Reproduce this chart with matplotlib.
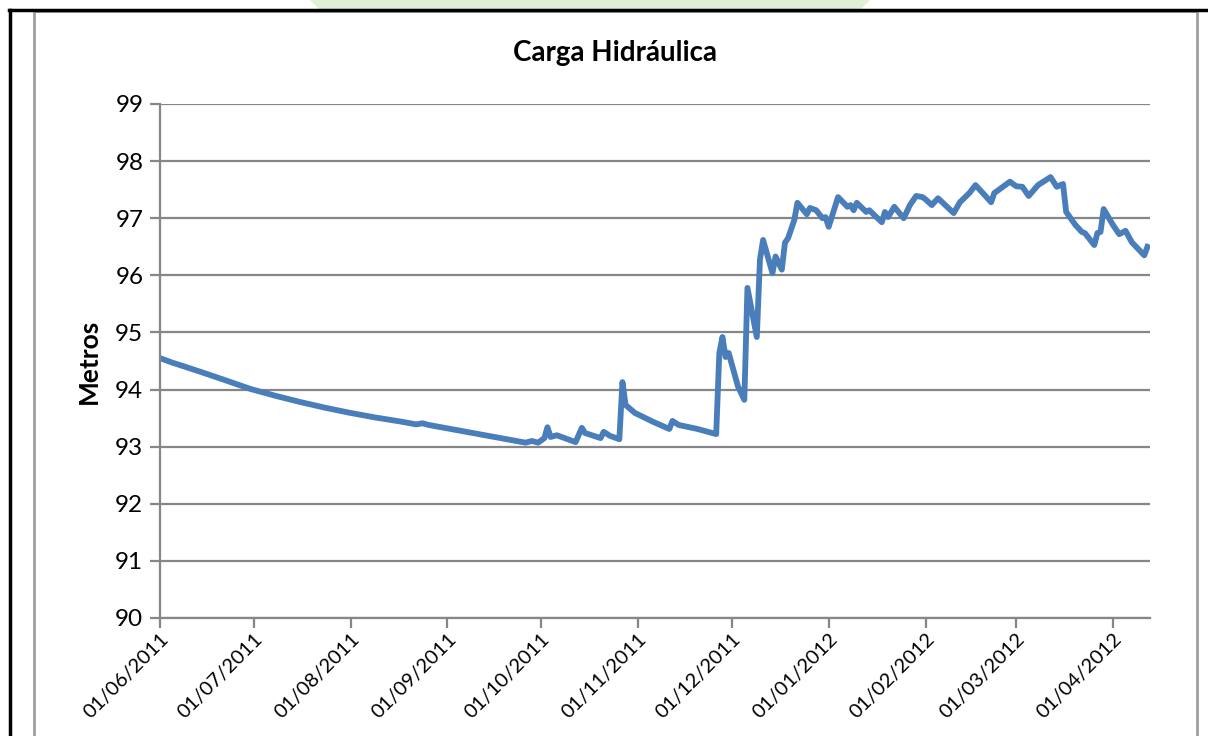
import matplotlib
matplotlib.use("Agg")
import matplotlib.pyplot as plt
import matplotlib.dates as mdates
from matplotlib.lines import Line2D
from matplotlib.patches import Rectangle, Polygon
import pandas as pd

# Datas e valores
datas = [
    "2011-06-01", "2011-06-05", "2011-06-09", "2011-06-14", "2011-06-21", "2011-06-30",
    "2011-07-08", "2011-07-16", "2011-07-24", "2011-08-01", "2011-08-09",
    "2011-08-17", "2011-08-22", "2011-08-24", "2011-08-26", "2011-09-02", "2011-09-12",
    "2011-09-19", "2011-09-26", "2011-09-28", "2011-09-30", "2011-10-02", "2011-10-03", "2011-10-04",
    "2011-10-06", "2011-10-12", "2011-10-14", "2011-10-15", "2011-10-20", "2011-10-21",
    "2011-10-23", "2011-10-26", "2011-10-27", "2011-10-28", "2011-10-31", "2011-11-06",
    "2011-11-11", "2011-11-12", "2011-11-14", "2011-11-20", "2011-11-26", "2011-11-27",
    "2011-11-28", "2011-11-29", "2011-11-30", "2011-12-03", "2011-12-05", "2011-12-06",
    "2011-12-09", "2011-12-10", "2011-12-11", "2011-12-14", "2011-12-15", "2011-12-17",
    "2011-12-18", "2011-12-19", "2011-12-21", "2011-12-22", "2011-12-25", "2011-12-26",
    "2011-12-28", "2011-12-30", "2011-12-31", "2012-01-01", "2012-01-04", "2012-01-07",
    "2012-01-08", "2012-01-09", "2012-01-10", "2012-01-13", "2012-01-14", "2012-01-18",
    "2012-01-19", "2012-01-20", "2012-01-22", "2012-01-25", "2012-01-27", "2012-01-29",
    "2012-01-31", "2012-02-01", "2012-02-03", "2012-02-05", "2012-02-10", "2012-02-12",
    "2012-02-15", "2012-02-17", "2012-02-22", "2012-02-23", "2012-02-28", "2012-03-01",
    "2012-03-03", "2012-03-05", "2012-03-08", "2012-03-12", "2012-03-14", "2012-03-16",
    "2012-03-17", "2012-03-20", "2012-03-22", "2012-03-23", "2012-03-26", "2012-03-27",
    "2012-03-28", "2012-03-29", "2012-04-01", "2012-04-03", "2012-04-05", "2012-04-07",
    "2012-04-11", "2012-04-12",
]
carga = [
    94.55, 94.47, 94.40, 94.31, 94.18, 94.01,
    93.89, 93.78, 93.68, 93.59, 93.51,
    93.44, 93.39, 93.41, 93.38, 93.31, 93.21,
    93.14, 93.07, 93.10, 93.07, 93.15, 93.34, 93.17,
    93.20, 93.08, 93.33, 93.24, 93.15, 93.26,
    93.19, 93.13, 94.13, 93.73, 93.59, 93.43,
    93.31, 93.45, 93.38, 93.31, 93.22, 94.64,
    94.92, 94.57, 94.64, 94.05, 93.82, 95.78,
    94.92, 96.27, 96.62, 96.04, 96.33, 96.10,
    96.57, 96.65, 96.97, 97.27, 97.07, 97.18,
    97.14, 97.00, 97.02, 96.85, 97.37, 97.20,
    97.23, 97.14, 97.27, 97.11, 97.14, 96.93,
    97.11, 97.02, 97.20, 97.00, 97.23, 97.39,
    97.37, 97.33, 97.23, 97.35, 97.09, 97.28,
    97.44, 97.58, 97.28, 97.44, 97.64, 97.56,
    97.55, 97.39, 97.58, 97.72, 97.55, 97.60,
    97.11, 96.88, 96.76, 96.74, 96.53, 96.74,
    96.76, 97.16, 96.88, 96.72, 96.78, 96.58,
    96.35, 96.50,
]
ticks_x = pd.date_range("2011-06-01", "2012-04-01", freq="MS")
ticks_y = list(range(90, 100))

datas = pd.to_datetime(datas)

fig = plt.figure(figsize=(12.08, 7.36), dpi=100)
W, H = 1208, 736

# moldura da página / marca d'água
fig.add_artist(Polygon([(310 / W, 1), (870 / W, 1), (850 / W, 1 - 20 / H), (330 / W, 1 - 20 / H)],
                       closed=True, transform=fig.transFigure, facecolor="#def0d6",
                       edgecolor="none", zorder=0))
fig.add_artist(Rectangle((34 / W, -0.01), (1197 - 34) / W, 1 - 11 / H + 0.01,
                         transform=fig.transFigure, facecolor="white",
                         edgecolor="#a0a0a0", linewidth=2, zorder=1))
fig.add_artist(Line2D([9 / W, 1], [1 - 9.5 / H, 1 - 9.5 / H], transform=fig.transFigure,
                      color="black", linewidth=2.5, zorder=3))
fig.add_artist(Line2D([10 / W, 10 / W], [0, 1 - 9.5 / H], transform=fig.transFigure,
                      color="black", linewidth=2.5, zorder=3))

ax = fig.add_axes([160 / W, 1 - 618 / H, (1150 - 160) / W, (618 - 104) / H])
ax.set_zorder(2)
ax.patch.set_alpha(0)

ax.plot(datas, carga, color="#4a7ebb", linewidth=4.2, solid_joinstyle="round")

ax.set_ylim(90, 99)
ax.set_yticks(ticks_y)
ax.set_xlim(pd.Timestamp("2011-06-01"), pd.Timestamp("2012-04-12 20:00"))
ax.set_xticks(ticks_x)
ax.xaxis.set_major_formatter(mdates.DateFormatter("%d/%m/%Y"))

ax.grid(axis="y", color="#868686", linewidth=1.6)
ax.set_axisbelow(True)
for s in ["top", "right"]:
    ax.spines[s].set_visible(False)
ax.spines["left"].set_color("#868686")
ax.spines["bottom"].set_color("#868686")
ax.spines["left"].set_linewidth(1.6)
ax.spines["bottom"].set_linewidth(1.6)
ax.tick_params(axis="both", color="#868686", width=1.6, length=7)
ax.tick_params(axis="y", labelsize=17.5, pad=5)
ax.tick_params(axis="x", labelsize=14.5, pad=2)
for lab in ax.get_xticklabels():
    lab.set_rotation(45)
    lab.set_ha("right")
    lab.set_rotation_mode("anchor")
for lab in ax.get_xticklabels() + ax.get_yticklabels():
    lab.set_family("Lato")

ax.set_ylabel("Metros", fontsize=19, fontweight="bold", family="Lato", labelpad=10)
fig.text(615 / W, 1 - 53 / H, "Carga Hidráulica", ha="center", va="center",
         fontsize=20, fontweight="bold", family="Lato")

fig.savefig("out.png", dpi=100)
